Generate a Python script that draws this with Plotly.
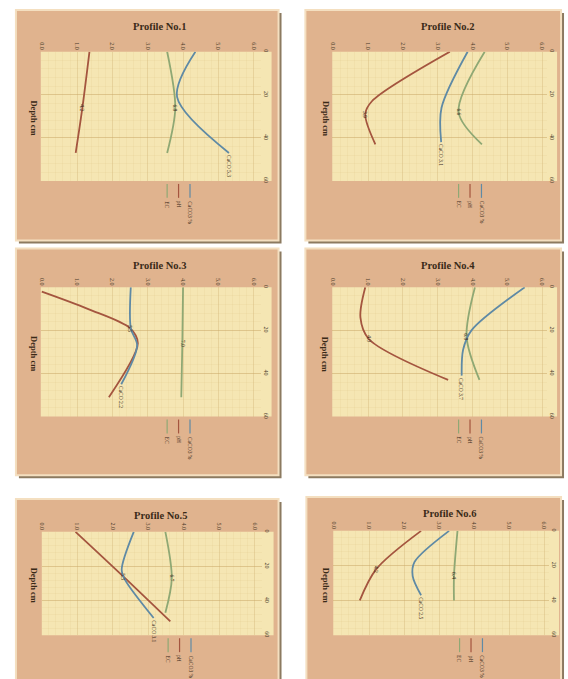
import plotly.graph_objects as go

W, H = 568, 679

# ---------------- data ----------------
profile_titles = ["Profile No.1", "Profile No.2", "Profile No.3",
                  "Profile No.4", "Profile No.5", "Profile No.6"]
x_tick_vals = [0, 1, 2, 3, 4, 5, 6]
x_tick_text = ["0.0", "1.0", "2.0", "3.0", "4.0", "5.0", "6.0"]
depth_tick_vals = [0, 20, 40, 60]
depth_tick_text = ["0", "20", "40", "60"]
series_names = ["EC", "pH", "CaCO3 %"]

# Profile 1
p1_ec_depth = [0, 26, 47];        p1_ec_val = [3.55, 3.78, 3.55]
p1_ph_depth = [0, 26, 47];        p1_ph_val = [1.35, 1.15, 0.96]
p1_ca_depth = [0, 21, 47];        p1_ca_val = [4.35, 3.83, 5.30]
# Profile 2
p2_ec_depth = [0, 28, 43];        p2_ec_val = [4.35, 3.60, 4.27]
p2_ph_depth = [0, 23, 29, 43];    p2_ph_val = [3.35, 1.11, 0.92, 1.21]
p2_ca_depth = [0, 26, 42];        p2_ca_val = [3.86, 3.11, 3.10]
# Profile 3
p3_ec_depth = [0, 26, 51];        p3_ec_val = [4.00, 3.98, 3.95]
p3_ph_depth = [2, 10, 19, 26, 51]; p3_ph_val = [0.00, 1.30, 2.50, 2.72, 1.90]
p3_ca_depth = [0, 19, 27, 45];    p3_ca_val = [2.52, 2.52, 2.70, 2.25]
# Profile 4
p4_ec_depth = [0, 23, 43];        p4_ec_val = [4.07, 3.83, 4.20]
p4_ph_depth = [0, 14, 24, 43];    p4_ph_val = [0.92, 0.78, 1.02, 3.30]
p4_ca_depth = [0, 20, 29, 41];    p4_ca_val = [5.50, 3.97, 3.73, 3.69]
# Profile 5
p5_ec_depth = [0, 27, 47];        p5_ec_val = [3.48, 3.66, 3.48]
p5_ph_depth = [0, 26, 52];        p5_ph_val = [0.95, 2.30, 3.62]
p5_ca_depth = [0, 22, 28, 50];    p5_ca_val = [2.59, 2.25, 2.35, 3.15]
# Profile 6
p6_ec_depth = [0, 26, 40];        p6_ec_val = [3.52, 3.42, 3.42]
p6_ph_depth = [0, 22, 40];        p6_ph_val = [2.48, 1.20, 0.73]
p6_ca_depth = [0, 18, 26, 37];    p6_ca_val = [3.28, 2.29, 2.24, 2.48]

profiles = [
    [(p1_ec_depth, p1_ec_val), (p1_ph_depth, p1_ph_val), (p1_ca_depth, p1_ca_val)],
    [(p2_ec_depth, p2_ec_val), (p2_ph_depth, p2_ph_val), (p2_ca_depth, p2_ca_val)],
    [(p3_ec_depth, p3_ec_val), (p3_ph_depth, p3_ph_val), (p3_ca_depth, p3_ca_val)],
    [(p4_ec_depth, p4_ec_val), (p4_ph_depth, p4_ph_val), (p4_ca_depth, p4_ca_val)],
    [(p5_ec_depth, p5_ec_val), (p5_ph_depth, p5_ph_val), (p5_ca_depth, p5_ca_val)],
    [(p6_ec_depth, p6_ec_val), (p6_ph_depth, p6_ph_val), (p6_ca_depth, p6_ca_val)],
]

# ---------------- styling / layout geometry (pixels) ----------------
colors = ["#8fa874", "#a4553f", "#5f8aa5"]
SERIF = "Liberation Serif, Times New Roman, serif"
PAPER_YELLOW = "#f5e6b3"

# frame (l, t, r, b), yellow area (l, t, r, b), axis right edge px, x-tick0 px, tick spacing px
panels = [
    dict(frame=(13, 8, 277, 240),  plot=(38, 50, 270, 180),  ar=259, t0=39,  sp=35.5),
    dict(frame=(304, 8, 561, 240), plot=(331, 50, 557, 180), ar=547, t0=332, sp=35.0),
    dict(frame=(13, 248, 277, 476), plot=(38, 287, 270, 417), ar=259, t0=39, sp=35.5),
    dict(frame=(304, 248, 561, 476), plot=(331, 287, 557, 417), ar=547, t0=332, sp=35.0),
    dict(frame=(13, 500, 277, 690), plot=(39, 533, 272, 637), ar=260, t0=39, sp=35.7),
    dict(frame=(305, 498, 561, 690), plot=(332, 532, 559, 637), ar=549, t0=333, sp=35.2),
]

fig = go.Figure()
shapes = []
annotations = []

def px(x):
    return x / W

def py(y):
    return 1 - y / H

for i, (pan, series) in enumerate(zip(panels, profiles)):
    n = i + 1
    xa = "xaxis" if n == 1 else f"xaxis{n}"
    ya = "yaxis" if n == 1 else f"yaxis{n}"
    xr = "x" if n == 1 else f"x{n}"
    yr = "y" if n == 1 else f"y{n}"
    fl, ft, fr, fb = pan["frame"]
    pl, pt, pr, pb = pan["plot"]
    ar = pan["ar"]

    # frame with bevel / shadow
    shapes.append(dict(type="rect", xref="paper", yref="paper",
                       x0=px(fl + 3), x1=px(fr + 3), y0=py(fb + 3), y1=py(ft + 3),
                       fillcolor="#8c7a60", line=dict(width=0), layer="below"))
    shapes.append(dict(type="rect", xref="paper", yref="paper",
                       x0=px(fl), x1=px(fr), y0=py(fb), y1=py(ft),
                       fillcolor="#e0b38e", line=dict(color="#f4dfc0", width=2),
                       layer="below"))
    # yellow papyrus plot area
    shapes.append(dict(type="rect", xref="paper", yref="paper",
                       x0=px(pl), x1=px(pr), y0=py(pb), y1=py(pt),
                       fillcolor=PAPER_YELLOW, line=dict(width=0), layer="below"))

    x0v = (pl - pan["t0"]) / pan["sp"]
    x1v = (ar - pan["t0"]) / pan["sp"]
    fig.update_layout(**{
        xa: dict(domain=[px(pl), px(ar)], range=[x0v, x1v], side="top",
                 anchor=yr, tickvals=x_tick_vals, ticktext=x_tick_text,
                 tickangle=90, tickfont=dict(size=6, family=SERIF, color="#4a3a28"),
                 showgrid=True, gridcolor="rgba(210,180,120,0.3)", gridwidth=1,
                 minor=dict(dtick=0.2, showgrid=True, gridcolor="rgba(225,200,140,0.2)"),
                 zeroline=False, showline=False, ticks="", fixedrange=True),
        ya: dict(domain=[py(pb), py(pt)], range=[60, 0], side="right",
                 anchor=xr, tickvals=depth_tick_vals, ticktext=depth_tick_text,
                 tickangle=90, ticklabelstandoff=1,
                 tickfont=dict(size=6, family=SERIF, color="#4a3a28"),
                 showgrid=True, gridcolor="rgba(200,165,100,0.45)", gridwidth=1,
                 minor=dict(dtick=4, showgrid=True, gridcolor="rgba(225,200,140,0.2)"),
                 zeroline=False, showline=False, ticks="", fixedrange=True),
    })

    for k, (dep, val) in enumerate(series):
        fig.add_trace(go.Scatter(x=val, y=dep, mode="lines", xaxis=xr, yaxis=yr,
                                 line=dict(color=colors[k], width=1.8, shape="spline",
                                           smoothing=0.9),
                                 showlegend=False, hoverinfo="skip"))
        if k < 2:
            j = len(dep) // 2 if len(dep) != 4 else 2
            annotations.append(dict(xref=xr, yref=yr, x=val[j], y=dep[j],
                                    text=f"{val[j] + 3:.1f}", textangle=90,
                                    showarrow=False, xanchor="center", yanchor="middle",
                                    font=dict(size=5.5, family=SERIF, color="#3a2a1a")))
        else:
            annotations.append(dict(xref=xr, yref=yr, x=val[-1], y=dep[-1],
                                    text=f"CaCO {val[-1]:.1f}", textangle=90,
                                    showarrow=False, xanchor="center", yanchor="top",
                                    font=dict(size=5.5, family=SERIF, color="#3a2a1a")))

    # title
    annotations.append(dict(xref="paper", yref="paper", x=px((pl + pr) / 2 + 3),
                            y=py(ft + 17), text="<b>" + profile_titles[i] + "</b>",
                            showarrow=False, xanchor="center", yanchor="middle",
                            font=dict(size=10.5, family=SERIF, color="#3a2a18")))
    # depth label
    annotations.append(dict(xref="paper", yref="paper", x=px(pl - 7),
                            y=py((pt + pb) / 2 + 2), text="<b>Depth cm</b>",
                            textangle=90, showarrow=False,
                            xanchor="center", yanchor="middle",
                            font=dict(size=8.5, family=SERIF, color="#3a2a18")))
    # legend (vertical swatches with rotated text)
    lx0 = pl + 127
    for k, name in enumerate(series_names):
        lx = lx0 + k * 11.5
        shapes.append(dict(type="line", xref="paper", yref="paper",
                           x0=px(lx), x1=px(lx), y0=py(pb + 3), y1=py(pb + 17),
                           line=dict(color=colors[k], width=1.2)))
        annotations.append(dict(xref="paper", yref="paper", x=px(lx), y=py(pb + 18),
                                text=name, textangle=90, showarrow=False,
                                xanchor="center", yanchor="top",
                                font=dict(size=5.5, family=SERIF, color="#3a2a1a")))

fig.update_layout(width=W, height=H, margin=dict(l=0, r=0, t=0, b=0),
                  paper_bgcolor="white", plot_bgcolor=PAPER_YELLOW,
                  shapes=shapes, annotations=annotations, showlegend=False)

fig.write_html("out.html")
